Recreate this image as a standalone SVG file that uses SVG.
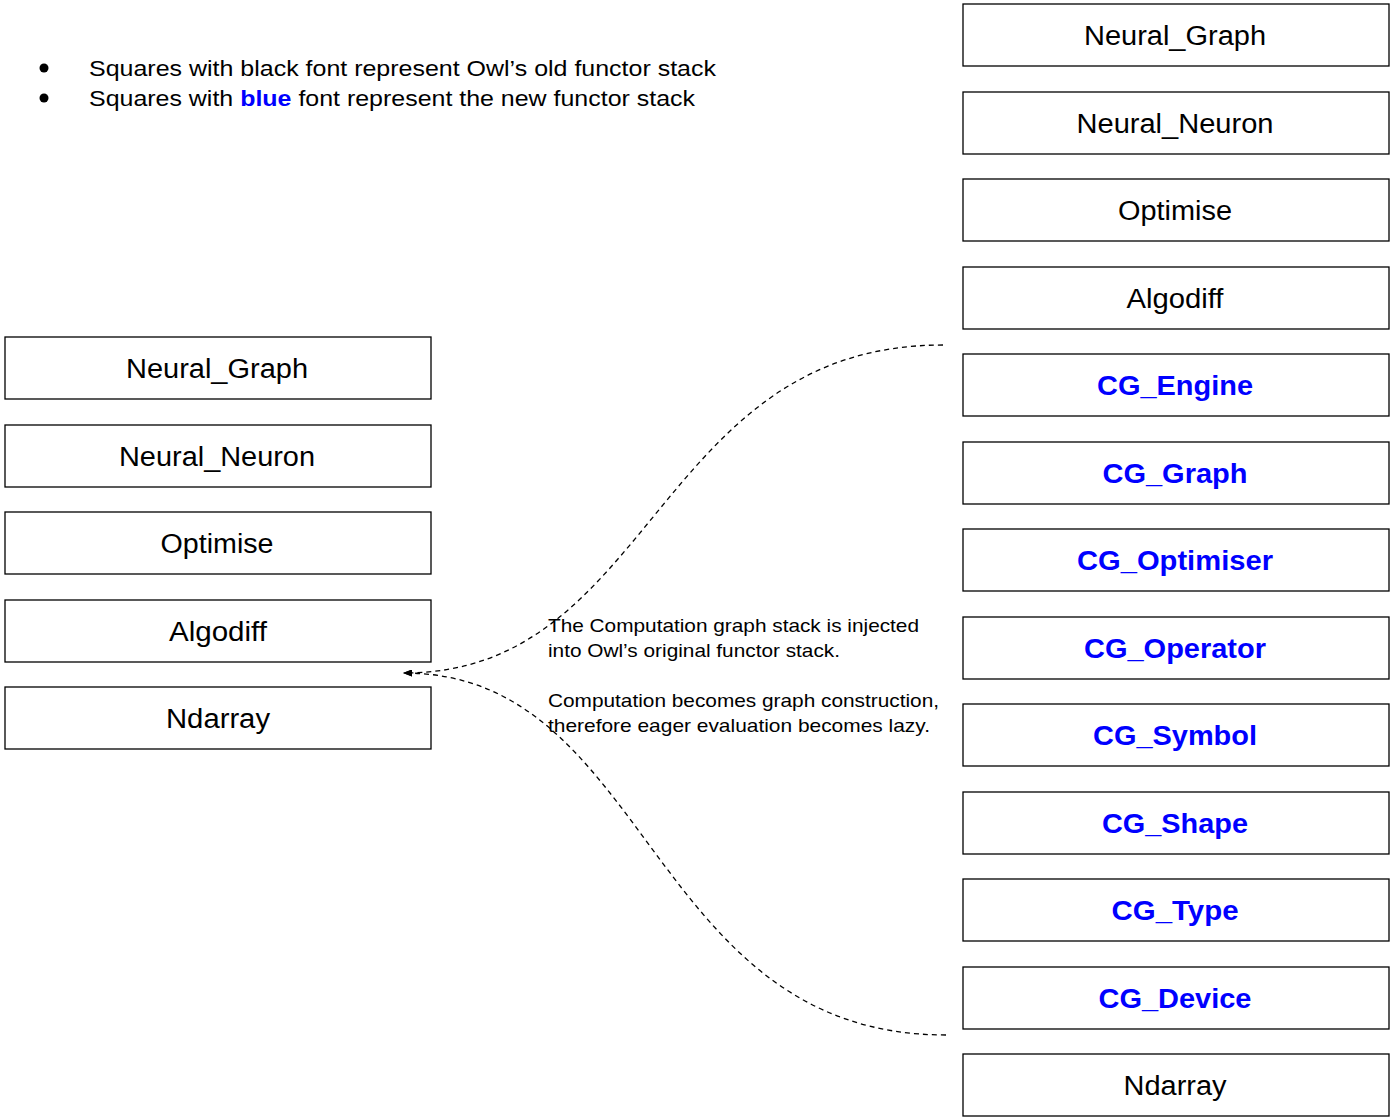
<svg xmlns="http://www.w3.org/2000/svg" width="1393" height="1120" viewBox="0 0 1393 1120">
<style>
.box{fill:#fff;stroke:#000;stroke-width:1.3}
.lbl{font-family:"Liberation Sans",Arial,sans-serif;font-size:27px;fill:#000;text-anchor:middle}
.cg{fill:#0000ff;font-weight:bold}
.txt{font-family:"Liberation Sans",Arial,sans-serif;fill:#000}
.con{fill:none;stroke:#000;stroke-width:1.3;stroke-dasharray:5,4}
</style>
<defs>
<marker id="ah" markerWidth="9" markerHeight="7" refX="8" refY="3.5" orient="auto" markerUnits="userSpaceOnUse">
<path d="M0,0 L9,3.5 L0,7 Z" fill="#000"/>
</marker>
</defs>
<rect width="1393" height="1120" fill="#fff"/>
<g id="legend" class="txt" font-size="22">
<circle cx="44" cy="68" r="4.5" fill="#000"/>
<circle cx="44" cy="98" r="4.5" fill="#000"/>
<text x="89" y="76" textLength="627" lengthAdjust="spacingAndGlyphs">Squares with black font represent Owl’s old functor stack</text>
<text x="89" y="106" textLength="606" lengthAdjust="spacingAndGlyphs">Squares with <tspan fill="#0000ff" font-weight="bold">blue</tspan> font represent the new functor stack</text>
</g>
<g id="left-stack">
<g id="l-neural-graph"><rect class="box" x="5" y="337" width="426" height="62"/><text class="lbl" x="217" y="378" textLength="182" lengthAdjust="spacingAndGlyphs">Neural_Graph</text></g>
<g id="l-neural-neuron"><rect class="box" x="5" y="425" width="426" height="62"/><text class="lbl" x="217" y="466" textLength="196" lengthAdjust="spacingAndGlyphs">Neural_Neuron</text></g>
<g id="l-optimise"><rect class="box" x="5" y="512" width="426" height="62"/><text class="lbl" x="217" y="553" textLength="113" lengthAdjust="spacingAndGlyphs">Optimise</text></g>
<g id="l-algodiff"><rect class="box" x="5" y="600" width="426" height="62"/><text class="lbl" x="218" y="641" textLength="98" lengthAdjust="spacingAndGlyphs">Algodiff</text></g>
<g id="l-ndarray"><rect class="box" x="5" y="687" width="426" height="62"/><text class="lbl" x="218" y="728" textLength="104" lengthAdjust="spacingAndGlyphs">Ndarray</text></g>
</g>
<g id="right-stack">
<g id="r-neural-graph"><rect class="box" x="963" y="4" width="426" height="62"/><text class="lbl" x="1175" y="45" textLength="182" lengthAdjust="spacingAndGlyphs">Neural_Graph</text></g>
<g id="r-neural-neuron"><rect class="box" x="963" y="92" width="426" height="62"/><text class="lbl" x="1175" y="133" textLength="197" lengthAdjust="spacingAndGlyphs">Neural_Neuron</text></g>
<g id="r-optimise"><rect class="box" x="963" y="179" width="426" height="62"/><text class="lbl" x="1175" y="220" textLength="114" lengthAdjust="spacingAndGlyphs">Optimise</text></g>
<g id="r-algodiff"><rect class="box" x="963" y="267" width="426" height="62"/><text class="lbl" x="1175" y="308" textLength="97" lengthAdjust="spacingAndGlyphs">Algodiff</text></g>
<g id="r-cg-engine"><rect class="box" x="963" y="354" width="426" height="62"/><text class="lbl cg" x="1175" y="395" textLength="156" lengthAdjust="spacingAndGlyphs">CG_Engine</text></g>
<g id="r-cg-graph"><rect class="box" x="963" y="442" width="426" height="62"/><text class="lbl cg" x="1175" y="483" textLength="145" lengthAdjust="spacingAndGlyphs">CG_Graph</text></g>
<g id="r-cg-optimiser"><rect class="box" x="963" y="529" width="426" height="62"/><text class="lbl cg" x="1175" y="570" textLength="196" lengthAdjust="spacingAndGlyphs">CG_Optimiser</text></g>
<g id="r-cg-operator"><rect class="box" x="963" y="617" width="426" height="62"/><text class="lbl cg" x="1175" y="658" textLength="182" lengthAdjust="spacingAndGlyphs">CG_Operator</text></g>
<g id="r-cg-symbol"><rect class="box" x="963" y="704" width="426" height="62"/><text class="lbl cg" x="1175" y="745" textLength="164" lengthAdjust="spacingAndGlyphs">CG_Symbol</text></g>
<g id="r-cg-shape"><rect class="box" x="963" y="792" width="426" height="62"/><text class="lbl cg" x="1175" y="833" textLength="146" lengthAdjust="spacingAndGlyphs">CG_Shape</text></g>
<g id="r-cg-type"><rect class="box" x="963" y="879" width="426" height="62"/><text class="lbl cg" x="1175" y="920" textLength="127" lengthAdjust="spacingAndGlyphs">CG_Type</text></g>
<g id="r-cg-device"><rect class="box" x="963" y="967" width="426" height="62"/><text class="lbl cg" x="1175" y="1008" textLength="153" lengthAdjust="spacingAndGlyphs">CG_Device</text></g>
<g id="r-ndarray"><rect class="box" x="963" y="1054" width="426" height="62"/><text class="lbl" x="1175" y="1095" textLength="103" lengthAdjust="spacingAndGlyphs">Ndarray</text></g>
</g>
<g id="connectors">
<path class="con" d="M943,345 C655,345 655,673 404,673" marker-end="url(#ah)"/>
<path class="con" d="M946,1035 C647,1035 652,673 404,673" marker-end="url(#ah)"/>
</g>
<g id="annotation" class="txt" font-size="18.5">
<text x="548" y="632" textLength="371" lengthAdjust="spacingAndGlyphs">The Computation graph stack is injected</text>
<text x="548" y="657" textLength="292" lengthAdjust="spacingAndGlyphs">into Owl’s original functor stack.</text>
<text x="548" y="707" textLength="391" lengthAdjust="spacingAndGlyphs">Computation becomes graph construction,</text>
<text x="548" y="732" textLength="382" lengthAdjust="spacingAndGlyphs">therefore eager evaluation becomes lazy.</text>
</g>
</svg>
